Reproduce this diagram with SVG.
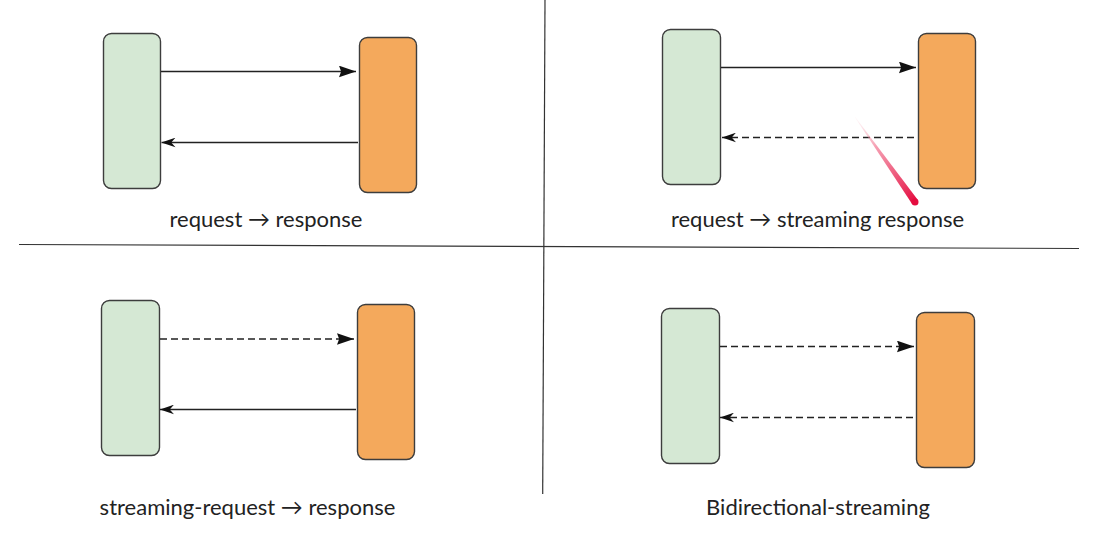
<svg xmlns="http://www.w3.org/2000/svg" width="1097" height="540" viewBox="0 0 1097 540">
<style>
.client{fill:#d5e8d4;stroke:#3d3d3d;stroke-width:1.4}
.server{fill:#f4a95c;stroke:#3d3d3d;stroke-width:1.4}
.conn{stroke:#222;stroke-width:1.3;fill:none}
.dash{stroke-dasharray:7 4}
.lbl{font-family:Lato,"Liberation Sans",sans-serif;font-size:22px;fill:#222;text-anchor:middle}
.div{stroke:#333;stroke-width:1.2;fill:none}
</style>
<defs>
<marker id="block" markerUnits="userSpaceOnUse" markerWidth="17" markerHeight="12" viewBox="0 0 16 11" refX="16" refY="5.5" orient="auto">
<path d="M0,0 L16,5.5 L0,11 L2,5.5 z" fill="#111"/>
</marker>
<marker id="open" markerUnits="userSpaceOnUse" markerWidth="14" markerHeight="10" viewBox="0 0 13 9" refX="13" refY="4.5" orient="auto">
<path d="M0,0 L13,4.5 L0,9 L4,4.5 z" fill="#111"/>
</marker>
<linearGradient id="laser" gradientUnits="userSpaceOnUse" x1="855" y1="117" x2="915" y2="202">
<stop offset="0" stop-color="#f9c0cc" stop-opacity="0.1"/>
<stop offset="0.35" stop-color="#f27d97" stop-opacity="0.75"/>
<stop offset="1" stop-color="#e40c3f" stop-opacity="1"/>
</linearGradient>
</defs>
<g id="dividers">
<line class="div" x1="545" y1="0" x2="542.7" y2="494"/>
<line class="div" x1="19" y1="244.5" x2="1079" y2="248.5"/>
</g>
<g id="p1-client"><rect class="client" x="103.5" y="33.5" width="57" height="155" rx="8"/></g>
<g id="p1-server"><rect class="server" x="359.5" y="37.5" width="57" height="155" rx="8"/></g>
<g id="p2-client"><rect class="client" x="662.5" y="29.5" width="58" height="155" rx="8"/></g>
<g id="p2-server"><rect class="server" x="918.5" y="33.5" width="57" height="155" rx="8"/></g>
<g id="p3-client"><rect class="client" x="101.5" y="300.5" width="58" height="155" rx="8"/></g>
<g id="p3-server"><rect class="server" x="357.5" y="304.5" width="57" height="155" rx="8"/></g>
<g id="p4-client"><rect class="client" x="661.5" y="308.5" width="58" height="155" rx="8"/></g>
<g id="p4-server"><rect class="server" x="916.5" y="312.5" width="58" height="155" rx="8"/></g>
<g id="connectors">
<line class="conn" x1="161" y1="71.5" x2="356" y2="71.5" marker-end="url(#block)"/>
<line class="conn" x1="358" y1="142.5" x2="161.5" y2="142.5" marker-end="url(#open)"/>
<line class="conn" x1="721" y1="67.5" x2="916" y2="67.5" marker-end="url(#block)"/>
<line class="conn dash" x1="914" y1="137.5" x2="722" y2="137.5" marker-end="url(#open)"/>
<line class="conn dash" x1="160" y1="339" x2="354" y2="339" marker-end="url(#block)"/>
<line class="conn" x1="356" y1="409.5" x2="160" y2="409.5" marker-end="url(#open)"/>
<line class="conn dash" x1="720" y1="346.5" x2="914" y2="346.5" marker-end="url(#block)"/>
<line class="conn dash" x1="913" y1="417.5" x2="720" y2="417.5" marker-end="url(#open)"/>
</g>
<g id="labels">
<text class="lbl" x="266" y="227">request → response</text>
<text class="lbl" x="817.5" y="226.5">request → streaming response</text>
<text class="lbl" x="247.5" y="515">streaming-request → response</text>
<text class="lbl" x="818" y="515">Bidirectional-streaming</text>
</g>
<g id="laser-streak">
<polygon points="854.4,116.6 855.6,117.4 917.9,200 912.1,204" fill="url(#laser)"/>
<circle cx="915" cy="202" r="3.5" fill="#e40c3f"/>
</g>
</svg>
